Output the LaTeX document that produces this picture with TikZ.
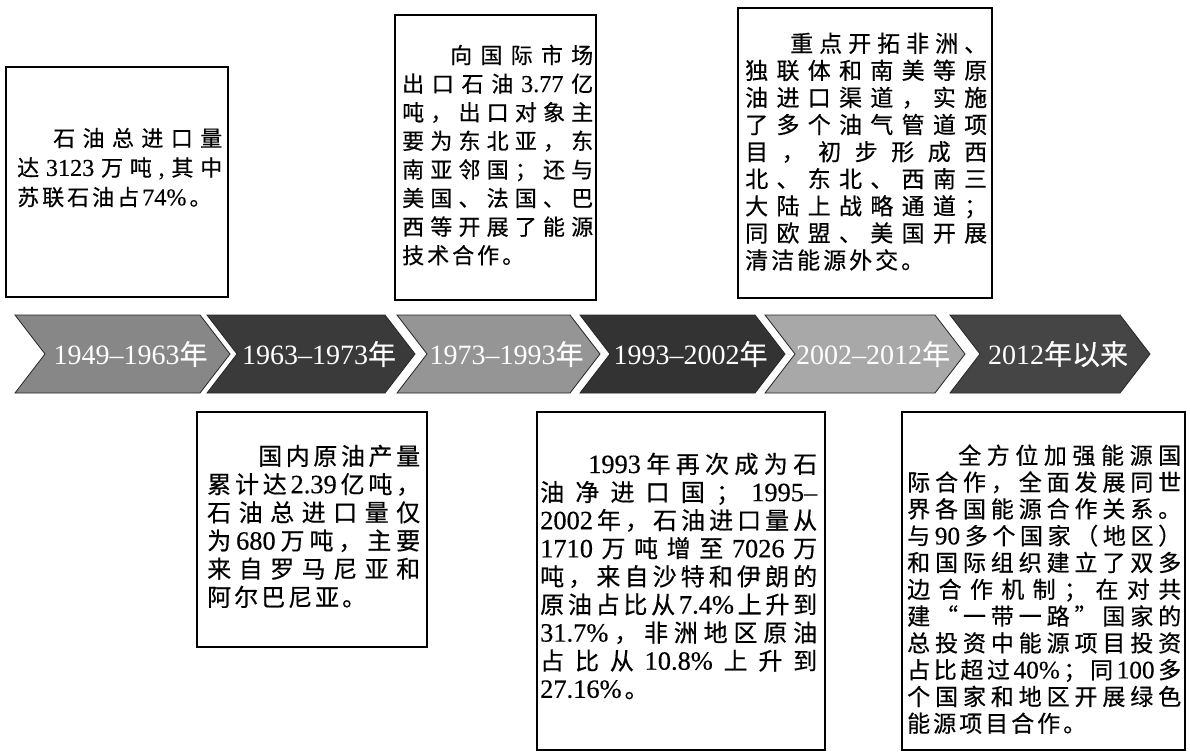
\documentclass[tikz,border=0pt]{standalone}
\usepackage{fontspec}
\setmainfont{Liberation Serif}
\newfontfamily\cjk{Noto Sans CJK SC}[FakeBold=0.5]
\newfontfamily\numf{Liberation Serif}[FakeBold=0.4, Scale=1.1]
\hbadness=10000 \hfuzz=8pt
\newcommand\nm[1]{{\numf #1}}
\makeatletter
% a justified line: items spread evenly over the full width
\newcommand\spread[1]{\hbox to \linewidth{\let\sp@sep\relax\@tfor\sp@x:=#1\do{\sp@sep\sp@x\let\sp@sep\hfil}}}
% a last line: natural spacing
\newcommand\natl[1]{\hbox{\let\sp@sep\relax\@tfor\sp@x:=#1\do{\sp@sep\sp@x\def\sp@sep{\hskip3pt}}}}
\makeatother
\definecolor{cA}{HTML}{878787}
\definecolor{cB}{HTML}{3A3A3A}
\definecolor{cC}{HTML}{959595}
\definecolor{cD}{HTML}{333333}
\definecolor{cE}{HTML}{A8A8A8}
\definecolor{cF}{HTML}{454545}
\tikzset{
  box/.style={draw=black, line width=1.8pt},
  txt/.style={anchor=base west, inner sep=0pt},
  chev/.style={draw=black!85, line width=0.8pt},
  lab/.style={text=white, inner sep=0pt, font=\fontsize{28}{28}\selectfont},
}
\newcommand\chev[3]{%
  \path[chev, fill=#3] (#1,315) -- ({#2-30},315) -- (#2,354) -- ({#2-30},393) -- (#1,393) -- ({#1+30},354) -- cycle;}
\begin{document}
\begin{tikzpicture}[x=1pt, y=-1pt]
\useasboundingbox (0,0) rectangle (1190,753);
\fill[white] (0,0) rectangle (1190,753);

% chevrons
\chev{15}{230}{cA}
\chev{207}{415}{cB}
\chev{397}{600}{cC}
\chev{580}{785}{cD}
\chev{765}{965}{cE}
\chev{950}{1150}{cF}
\node[lab] (c1) at (130.5,354) {1949–1963{\cjk 年}};
\node[lab] (c2) at (319,354) {1963–1973{\cjk 年}};
\node[lab] (c3) at (506.5,354) {1973–1993{\cjk 年}};
\node[lab] (c4) at (690.5,354) {1993–2002{\cjk 年}};
\node[lab] (c5) at (873,354) {2002–2012{\cjk 年}};
\node[lab] (c6) at (1058,354) {2012{\cjk 年以来}};

% boxes
\draw[box] (6,67) rectangle (228,297);
\draw[box] (395,15) rectangle (596,300);
\draw[box] (738,8) rectangle (992,298);
\draw[box] (197,412) rectangle (427,647);
\draw[box] (537,412) rectangle (825,750);
\draw[box] (902,412) rectangle (1185,750);

\node[txt, text width=205pt, font=\cjk\fontsize{22}{29.5}\selectfont] (t1) at (17,146.4)
{\spread{{\hskip36pt 石}油总进口量}
 \spread{达{\nm{3123}}万吨{\nm{,}}其中}
 \natl{苏联石油占{\nm{74\%}}。}};

\node[txt, text width=191pt, font=\cjk\fontsize{22}{28.6}\selectfont] (t2) at (402,63.4)
{\spread{{\hskip48pt 向}国际市场}
 \spread{出口石油{\nm{3.77}}亿}
 \spread{吨，出口对象主}
 \spread{要为东北亚，东}
 \spread{南亚邻国；还与}
 \spread{美国、法国、巴}
 \spread{西等开展了能源}
 \natl{技术合作。}};

\node[txt, text width=242pt, font=\cjk\fontsize{23}{27.1}\selectfont] (t3) at (745,52)
{\spread{{\hskip45pt 重}点开拓非洲、}
 \spread{独联体和南美等原}
 \spread{油进口渠道，实施}
 \spread{了多个油气管道项}
 \spread{目，初步形成西}
 \spread{北、东北、西南三}
 \spread{大陆上战略通道；}
 \spread{同欧盟、美国开展}
 \natl{清洁能源外交。}};

\node[txt, text width=213pt, font=\cjk\fontsize{24}{28.2}\selectfont] (t4) at (207,465)
{\spread{{\hskip51pt 国}内原油产量}
 \spread{累计达{\nm{2.39}}亿吨，}
 \spread{石油总进口量仅}
 \spread{为{\nm{680}}万吨，主要}
 \spread{来自罗马尼亚和}
 \natl{阿尔巴尼亚。}};

\node[txt, text width=277pt, font=\cjk\fontsize{24}{28.1}\selectfont] (t5) at (540,473)
{\spread{{\hskip48pt\nm{1993}}年再次成为石}
 \spread{油净进口国；{\nm{1995–}}}
 \spread{{\nm{2002}}年，石油进口量从}
 \spread{{\nm{1710}}万吨增至{\nm{7026}}万}
 \spread{吨，来自沙特和伊朗的}
 \spread{原油占比从{\nm{7.4\%}}上升到}
 \spread{{\nm{31.7\%}}，非洲地区原油}
 \spread{占比从{\nm{10.8\%}}上升到}
 \natl{{\nm{27.16\%}}。}};

\node[txt, text width=274pt, font=\cjk\fontsize{23}{26.8}\selectfont] (t6) at (907,464)
{\spread{{\hskip51pt 全}方位加强能源国}
 \spread{际合作，全面发展同世}
 \spread{界各国能源合作关系。}
 \spread{与{\nm{90}}多个国家（地区）}
 \spread{和国际组织建立了双多}
 \spread{边合作机制；在对共}
 \spread{建“一带一路”国家的}
 \spread{总投资中能源项目投资}
 \spread{占比超过{\nm{40\%}}；同{\nm{100}}多}
 \spread{个国家和地区开展绿色}
 \natl{能源项目合作。}};
\end{tikzpicture}
\end{document}
